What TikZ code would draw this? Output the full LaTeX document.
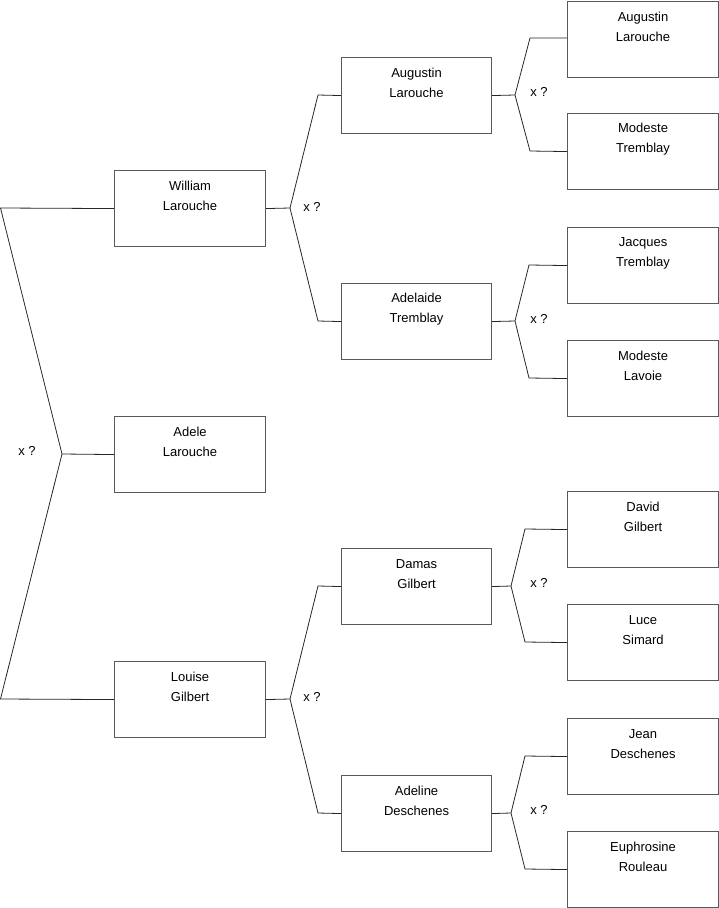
\documentclass[tikz,border=0pt]{standalone}
\usepackage{fontspec}
\setmainfont{Liberation Sans}
\begin{document}
\begin{tikzpicture}[x=1pt,y=-1pt,
  pbox/.style={draw=black!65,line width=1.1pt,minimum width=151pt,minimum height=76pt,inner sep=0pt,anchor=north west},
  ptext/.style={align=center,inner sep=0pt,font=\fontsize{13}{20}\selectfont},
  conn/.style={draw=black!85,line width=0.8pt},
  qlab/.style={inner sep=0pt,font=\fontsize{13}{14}\selectfont}]
\useasboundingbox (0,0) rectangle (719,908);
% column 1
\node[pbox] (W) at (114,170) {};
\node[pbox] (Ad) at (114,416) {};
\node[pbox] (L) at (114,661) {};
% column 2
\node[pbox,minimum width=150pt] (A2) at (341,57) {};
\node[pbox,minimum width=150pt] (T2) at (341,283) {};
\node[pbox,minimum width=150pt] (D2) at (341,548) {};
\node[pbox,minimum width=150pt] (E2) at (341,775) {};
% column 3
\node[pbox] (A3) at (567,0.5) {};
\node[pbox] (M3) at (567,113) {};
\node[pbox] (J3) at (567,227) {};
\node[pbox] (V3) at (567,340) {};
\node[pbox] (G3) at (567,491) {};
\node[pbox] (S3) at (567,604) {};
\node[pbox] (N3) at (567,718) {};
\node[pbox] (R3) at (567,831) {};
% texts
\node[ptext] (tW) at ([yshift=-26pt]W.north) {William\\Larouche};
\node[ptext] (tAd) at ([yshift=-26pt]Ad.north) {Adele\\Larouche};
\node[ptext] (tL) at ([yshift=-26pt]L.north) {Louise\\Gilbert};
\node[ptext] (tA2) at ([yshift=-26pt]A2.north) {Augustin\\Larouche};
\node[ptext] (tT2) at ([yshift=-26pt]T2.north) {Adelaide\\Tremblay};
\node[ptext] (tD2) at ([yshift=-26pt]D2.north) {Damas\\Gilbert};
\node[ptext] (tE2) at ([yshift=-26pt]E2.north) {Adeline\\Deschenes};
\node[ptext] (tA3) at ([yshift=-26pt]A3.north) {Augustin\\Larouche};
\node[ptext] (tM3) at ([yshift=-26pt]M3.north) {Modeste\\Tremblay};
\node[ptext] (tJ3) at ([yshift=-26pt]J3.north) {Jacques\\Tremblay};
\node[ptext] (tV3) at ([yshift=-26pt]V3.north) {Modeste\\Lavoie};
\node[ptext] (tG3) at ([yshift=-26pt]G3.north) {David\\Gilbert};
\node[ptext] (tS3) at ([yshift=-26pt]S3.north) {Luce\\Simard};
\node[ptext] (tN3) at ([yshift=-26pt]N3.north) {Jean\\Deschenes};
\node[ptext] (tR3) at ([yshift=-26pt]R3.north) {Euphrosine\\Rouleau};
% joints
\coordinate (j0) at (62,454);
\coordinate (l0a) at (0.5,208);
\coordinate (l0b) at (0.5,699);
\coordinate (j1) at (290,208);
\coordinate (k1a) at (318,95);
\coordinate (k1b) at (318,321);
\coordinate (j2) at (290,699);
\coordinate (k2a) at (318,586);
\coordinate (k2b) at (318,813);
\coordinate (j3) at (515,95);
\coordinate (k3a) at (530,38);
\coordinate (k3b) at (530,151);
\coordinate (j4) at (515,321);
\coordinate (k4a) at (529,265);
\coordinate (k4b) at (529,378);
\coordinate (j5) at (511,586);
\coordinate (k5a) at (525,529);
\coordinate (k5b) at (525,642);
\coordinate (j6) at (511,813);
\coordinate (k6a) at (525,756);
\coordinate (k6b) at (525,869);
% connectors
\draw[conn] (W.west) -- (l0a) -- (j0) -- (l0b) -- (L.west);
\draw[conn] (j0) -- (Ad.west);
\draw[conn] (W.east) -- (j1);
\draw[conn] (A2.west) -- (k1a) -- (j1) -- (k1b) -- (T2.west);
\draw[conn] (L.east) -- (j2);
\draw[conn] (D2.west) -- (k2a) -- (j2) -- (k2b) -- (E2.west);
\draw[conn] (A2.east) -- (j3);
\draw[conn] (A3.west |- k3a) -- (k3a) -- (j3) -- (k3b) -- (M3.west);
\draw[conn] (T2.east) -- (j4);
\draw[conn] (J3.west) -- (k4a) -- (j4) -- (k4b) -- (V3.west);
\draw[conn] (D2.east) -- (j5);
\draw[conn] (G3.west) -- (k5a) -- (j5) -- (k5b) -- (S3.west);
\draw[conn] (E2.east) -- (j6);
\draw[conn] (N3.west) -- (k6a) -- (j6) -- (k6b) -- (R3.west);
% labels
\node[qlab] (q0) at (27,451) {x ?};
\node[qlab] (q1) at (312,207) {x ?};
\node[qlab] (q2) at (312,697) {x ?};
\node[qlab] (q3) at (539,92) {x ?};
\node[qlab] (q4) at (539,319) {x ?};
\node[qlab] (q5) at (539,583) {x ?};
\node[qlab] (q6) at (539,810) {x ?};
\end{tikzpicture}
\end{document}
